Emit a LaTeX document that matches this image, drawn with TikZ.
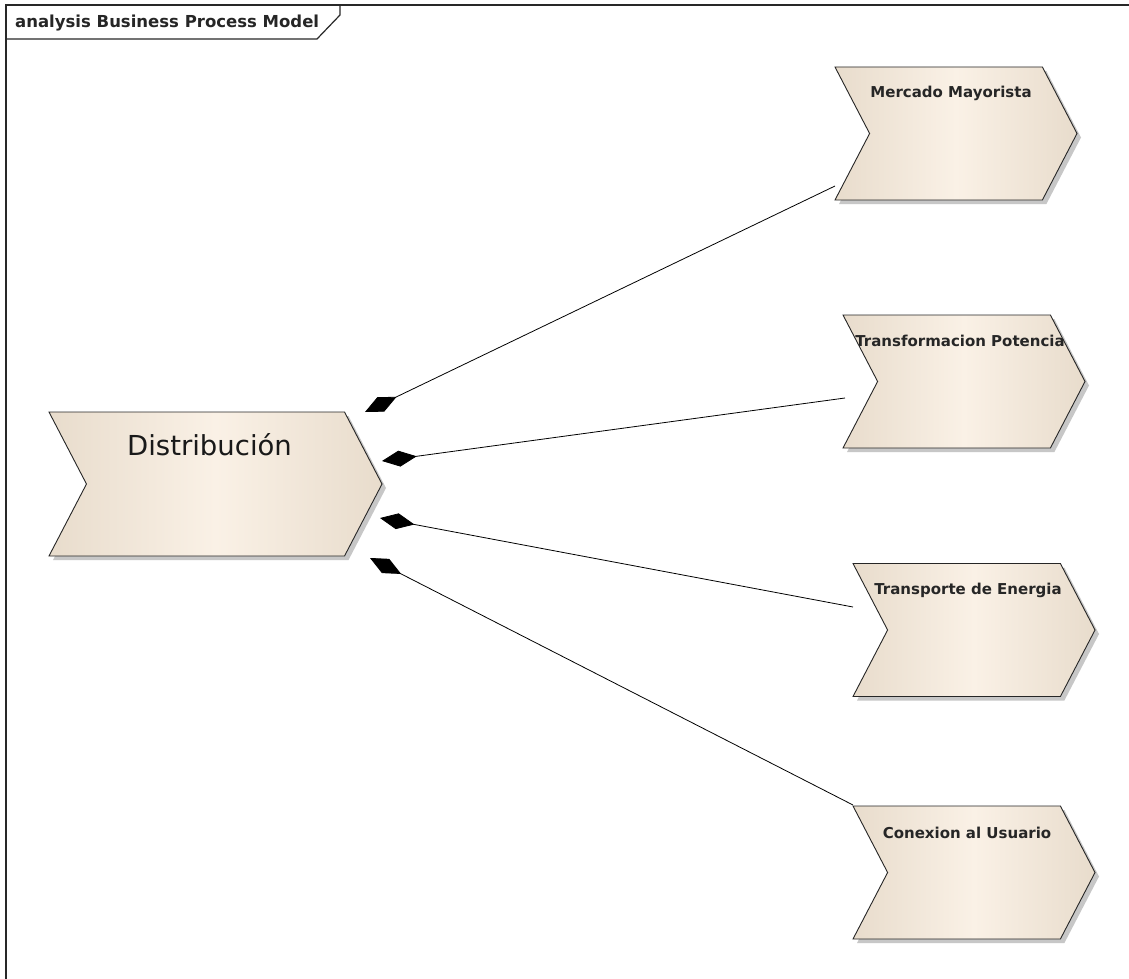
\documentclass[tikz,border=0pt]{standalone}
\usepackage{fontspec}
\setmainfont{DejaVu Sans}
\usetikzlibrary{shapes.symbols,shadows,arrows.meta}

\definecolor{procside}{RGB}{232,220,204}
\definecolor{procmid}{RGB}{250,241,230}
\definecolor{frameline}{RGB}{40,40,40}

\tikzset{
  process/.style={shape=signal, signal from=west, signal to=east,
    signal pointer angle=125, draw=black!85, line width=0.9pt,
    inner sep=0pt, outer sep=0pt,
    minimum width=242pt, minimum height=133pt,
    left color=procside, right color=procside, middle color=procmid,
    drop shadow={shadow xshift=4pt, shadow yshift=-4pt, fill=black!40, opacity=0.55}},
  proclabel/.style={anchor=base, inner sep=0pt, font=\bfseries\fontsize{15}{18}\selectfont, text=black!85},
  mainlabel/.style={anchor=base, inner sep=0pt, font=\fontsize{27.5}{32}\selectfont, text=black!90},
  framebox/.style={draw=frameline, line width=1.2pt},
  composition/.style={line width=0.8pt, draw=black, {Diamond[length=35pt,width=16pt,fill=black]}-}
}

\begin{document}
\begin{tikzpicture}[x=1pt,y=-1pt]
  \useasboundingbox (0,0) rectangle (1129,979);
  \fill[white] (0,0) rectangle (1129,979);

  % diagram frame and its name tag
  \draw[framebox] (6,979) -- (6,5) -- (1129,5);
  \draw[framebox] (6,39) -- (317,39) -- (340,15) -- (340,5);
  \node[anchor=base west, inner sep=0pt, font=\bfseries\fontsize{16.5}{19}\selectfont, text=black!85]
    (title) at (15,28) {analysis Business Process Model};

  % processes
  \node[process, minimum width=333pt, minimum height=144pt] (dist) at (215.5,484) {};
  \node[process] (merc) at (956,133.5) {};
  \node[process] (trafo) at (964,381.5) {};
  \node[process] (trans) at (974,630) {};
  \node[process] (conex) at (974,872.5) {};

  \node[mainlabel] (distl) at (209.5,455) {Distribución};
  \node[proclabel] (mercl) at (951,97.5) {Mercado Mayorista};
  \node[proclabel] (trafol) at (960,346) {Transformacion Potencia};
  \node[proclabel] (transl) at (968,594) {Transporte de Energia};
  \node[proclabel] (conexl) at (967,838) {Conexion al Usuario};

  % composition ends beside Distribución and the far ends on each process
  \coordinate (d1) at (365,412);
  \coordinate (d2) at (382,461);
  \coordinate (d3) at (380,518);
  \coordinate (d4) at (370,558);
  \coordinate (e1) at (835,186);
  \coordinate (e2) at (845,398);
  \coordinate (e3) at (853,607);
  \coordinate (e4) at (853,805);

  \draw[composition] (d1) -- (e1);
  \draw[composition] (d2) -- (e2);
  \draw[composition] (d3) -- (e3);
  \draw[composition] (d4) -- (e4);
\end{tikzpicture}
\end{document}
